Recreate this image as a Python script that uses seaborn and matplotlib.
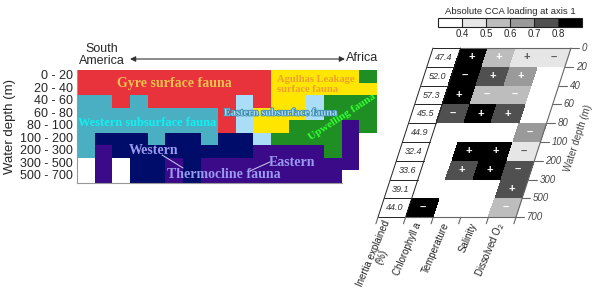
import matplotlib
matplotlib.use('Agg')
import matplotlib.pyplot as plt
import matplotlib.patheffects as pe
from matplotlib.colors import ListedColormap
from matplotlib.transforms import Affine2D
import numpy as np
import pandas as pd
import seaborn as sns

sns.set_theme(style='white')
plt.rcParams['font.family'] = ['Liberation Sans', 'DejaVu Sans']
serif = ['Liberation Serif', 'DejaVu Serif']

# ---- left panel: fauna groups along the transect (17 stations, west -> east)
depth_labels = ['0 - 20', '20 - 40', '40 - 60', '60 - 80', '80 - 100',
                '100 - 200', '200 - 300', '300 - 500', '500 - 700']
fauna_rows = [
    'RRRRRRRRRRRYYYYYG',
    'RRRRRRRRRRRYYYYYY',
    'CCRCRRRRRLRYYLGGG',
    'CCCCCCCCRLYYYLGGG',
    'CCCCCCCCRLYYGGGPG',
    'CNNNCNNCNNLGGGGPW',
    'CPNNNNNNNNPPPPGPW',
    'WPWNNPNPPPPPPPPPW',
    'WPWNNPNPPPPPPPPWW',
]
fauna_codes = ['W', 'R', 'Y', 'G', 'C', 'L', 'N', 'P']
fauna_colors = ['#FFFFFF', '#E8323C', '#FFE600', '#1F8F24',
                '#4BAFC4', '#AADDF8', '#000C6A', '#3A0A88']

# ---- right panel: CCA loadings (signed), NaN = not significant
depth_edges = ['0', '20', '40', '60', '80', '100', '200', '300', '500', '700']
inertia = [47.4, 52.0, 57.3, 45.5, 44.9, 32.4, 33.6, 39.1, 44.0]
variables = ['Chlorophyll a', 'Temperature', 'Salinity', 'Dissolved O$_2$']
nan = np.nan
chlorophyll = [0.85, -0.85, 0.85, -0.75, nan, nan, nan, nan, -0.85]
temperature = [0.55, 0.75, -0.55, 0.85, nan, 0.85, 0.75, nan, nan]
salinity = [0.45, 0.65, -0.55, 0.75, nan, 0.85, 0.85, nan, nan]
oxygen = [-0.45, nan, nan, nan, -0.65, -0.45, -0.75, 0.75, -0.55]
loading_bins = [0.4, 0.5, 0.6, 0.7, 0.8]
gray_colors = ['#FFFFFF', '#E6E6E6', '#BDBDBD', '#9A9A9A', '#505050', '#000000']

W, H = 600, 298
fig = plt.figure(figsize=(6, 2.98), dpi=100)


def px_axes(x0, y0, x1, y1):
    return fig.add_axes([x0 / W, 1 - y1 / H, (x1 - x0) / W, (y1 - y0) / H])


# ================= left panel
ax = px_axes(77, 70, 377, 182.5)
codes = pd.DataFrame([[fauna_codes.index(c) for c in row] for row in fauna_rows],
                     index=depth_labels)
sns.heatmap(codes, ax=ax, cmap=ListedColormap(fauna_colors), vmin=-0.5,
            vmax=len(fauna_colors) - 0.5, cbar=False, xticklabels=False,
            yticklabels=True)
plt.setp(ax.get_yticklabels(), rotation=0, fontsize=9)
ax.tick_params(axis='y', length=0, pad=3)
ax.set_ylabel('Water depth (m)', fontsize=9.5, labelpad=3)
for side in ['left', 'bottom']:
    ax.spines[side].set_visible(True)
    ax.spines[side].set_color('#999999')
    ax.spines[side].set_linewidth(0.8)
ax.spines['bottom'].set_bounds(0, 15)

bold = dict(family=serif, fontweight='bold', ha='center', va='center')
ax.text(5.5, 1.04, 'Gyre surface fauna', color='#F2C04E', fontsize=10, **bold)
ax.text(11.33, 1.16, 'Agulhas Leakage\nsurface fauna', color='#F0A030',
        fontsize=7.6, linespacing=1.05, family=serif, fontweight='bold',
        ha='left', va='center')
ax.text(3.99, 4.24, 'Western subsurface fauna', color='#10F0F0', fontsize=9, **bold)
ax.text(11.53, 3.44, 'Eastern subsurface fauna', color='#A8D8F4', fontsize=7.5,
        path_effects=[pe.withStroke(linewidth=1.2, foreground='#3A8AA8')], **bold)
ax.text(15.0, 3.76, 'Upwelling fauna', color='#33FF33', fontsize=8,
        rotation=33, **bold)
thermo = '#9A9AF0'
ax.text(4.36, 6.48, 'Western', color=thermo, fontsize=10, **bold)
ax.text(12.21, 7.36, 'Eastern', color=thermo, fontsize=10, **bold)
ax.text(8.33, 8.32, 'Thermocline fauna', color=thermo, fontsize=10, **bold)
ax.plot([4.82, 6.01], [6.8, 7.84], color='#D0D0F4', lw=0.7)
ax.plot([10.93, 9.80], [7.36, 8.08], color='#D0D0F4', lw=0.7)

fig.text(102 / W, 1 - 55 / H, 'South\nAmerica', ha='center', va='center',
         fontsize=9, linespacing=1.1)
fig.text(362 / W, 1 - 58 / H, 'Africa', ha='center', va='center', fontsize=9)
ax.annotate('', xy=(130 / W, 1 - 59 / H), xytext=(345 / W, 1 - 59 / H),
            xycoords='figure fraction', textcoords='figure fraction',
            arrowprops=dict(arrowstyle='<|-|>', color='#333333', lw=0.8,
                            mutation_scale=8, shrinkA=0, shrinkB=0))

# ================= right panel (sheared heatmap)
ux, uy = 27.6, 18.8          # cell size in pixels
gx, gy = 433, 48             # top-left corner of grid in pixels
s = -0.325 * uy / ux         # horizontal shear per row
x0, x1, y0, y1 = -2.6, 6.8, -0.4, 9.6
ax2 = px_axes(gx + x0 * ux, gy + y0 * uy, gx + x1 * ux, gy + y1 * uy)
cax = px_axes(438, 18, 582, 27)

load = pd.DataFrame({'inertia': [nan] * len(inertia), 'chl': chlorophyll,
                     'temp': temperature, 'sal': salinity, 'o2': oxygen})
signs = np.where(load.values > 0, '+', np.where(load.values < 0, '\u2013', ''))
sns.heatmap(load.abs(), ax=ax2, cmap=ListedColormap(gray_colors), vmin=0.3,
            vmax=0.9, annot=signs, fmt='',
            annot_kws=dict(fontsize=8, fontweight='bold'),
            cbar=True, cbar_ax=cax,
            cbar_kws=dict(orientation='horizontal', ticks=loading_bins,
                          drawedges=True),
            xticklabels=False, yticklabels=False)

shear = Affine2D(np.array([[1, s, 0], [0, 1, 0], [0, 0, 1]])) + ax2.transData
ax2.collections[0].set_transform(shear)
for t in ax2.texts:
    t.set_transform(shear)
    cx, cy = t.get_position()
    v = np.abs(load.values[int(cy), int(cx)])
    t.set_color('white' if v >= 0.5 else '#555555')

for i, v in enumerate(inertia):
    ax2.text(0.5, i + 0.5, f'{v:.1f}', transform=shear, ha='center',
             va='center', fontsize=6.5, style='italic', color='#333333')


def sline(xs, ys, **kw):
    ax2.plot(xs, ys, transform=shear, clip_on=False, **kw)


for i in range(len(inertia) + 1):
    sline([0, 1], [i, i], color='#222222', lw=0.7)
    sline([5, 5.3], [i, i], color='#666666', lw=0.8)
    ax2.text(5.4, i, depth_edges[i], transform=shear, ha='left', va='center',
             fontsize=7, style='italic', color='#444444')
sline([0, 0], [0, 9], color='#222222', lw=0.7)
sline([1, 1], [0, 9], color='#222222', lw=0.7)
sline([1, 5], [0, 0], color='#666666', lw=0.8)
sline([1, 5], [9, 9], color='#666666', lw=0.8)
sline([5, 5], [0, 9], color='#666666', lw=0.8)
for k in range(6):
    sline([k, k], [9, 9.35], color='#666666', lw=0.8)

col_labels = ['Inertia explained\n(%)'] + variables
for k, lab in enumerate(col_labels):
    ax2.text(k + 0.55, 9.3, lab, transform=shear, rotation=67,
             rotation_mode='anchor', ha='right', va='center', fontsize=7,
             multialignment='center', linespacing=1.0, color='#222222')

ax2.set_xlim(x0, x1)
ax2.set_ylim(y1, y0)
ax2.set_axis_off()
fig.text(578 / W, 1 - 138 / H, 'Water depth (m)', rotation=72, ha='center',
         va='center', fontsize=7, color='#444444')

cbar = ax2.collections[0].colorbar
cbar.outline.set_edgecolor('#222222')
cbar.outline.set_linewidth(0.8)
cbar.dividers.set_color('#222222')
cbar.dividers.set_linewidth(0.8)
cax.tick_params(length=0, labelsize=7, pad=1.5)
cax.set_title('Absolute CCA loading at axis 1', fontsize=6.8, pad=3)

fig.savefig('out.png', dpi=100)
